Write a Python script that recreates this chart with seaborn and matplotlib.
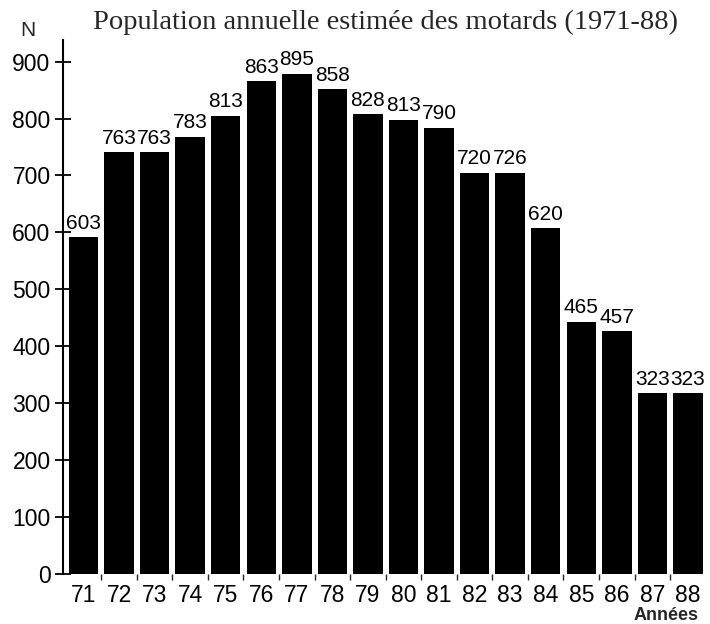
import matplotlib
matplotlib.use('Agg')
import matplotlib.pyplot as plt
import seaborn as sns
import pandas as pd

# années (étiquettes de l'axe X)
years = ['71', '72', '73', '74', '75', '76', '77', '78', '79',
         '80', '81', '82', '83', '84', '85', '86', '87', '88']
# valeurs imprimées au-dessus des barres
printed = [603, 763, 763, 783, 813, 863, 895, 858, 828,
           813, 790, 720, 726, 620, 465, 457, 323, 323]
# hauteurs des barres telles qu'elles sont dessinées sur le graphique
heights = [592, 741, 741, 768, 805, 866, 879, 852, 808,
           798, 784, 705, 705, 608, 443, 427, 318, 318]
yticks = [0, 100, 200, 300, 400, 500, 600, 700, 800, 900]

df = pd.DataFrame({'annee': years, 'n': heights, 'label': printed})

sns.set_style('white')
plt.rcParams['font.family'] = ['Liberation Sans', 'DejaVu Sans']

fig = plt.figure(figsize=(7.1, 6.24), dpi=100)
ax = fig.add_axes([63 / 710, 50 / 624, 642 / 710, 534 / 624])

sns.barplot(data=df, x='annee', y='n', color='black', saturation=1,
            width=0.83, linewidth=0, ax=ax)

# étiquettes au-dessus des barres
for i, row in df.iterrows():
    ax.annotate(str(row['label']), (i, row['n']), xytext=(0, 6),
                textcoords='offset points', ha='center', va='baseline',
                fontsize=15, color='black')

ax.set_xlim(-0.576, 17.48)
ax.set_ylim(0, 938)
ax.set_yticks(yticks)
ax.set_yticklabels([str(t) for t in yticks], fontsize=16.5)
ax.tick_params(axis='y', direction='inout', length=12, width=1.3,
               pad=3, colors='black', left=True)
ax.tick_params(axis='x', length=0, pad=7, labelsize=16.5, colors='black')
ax.set_xticks(range(len(years)))
ax.set_xticks([k + 0.5 for k in range(len(years) - 1)], minor=True)
ax.tick_params(axis='x', which='minor', direction='out', length=4,
               width=1, bottom=True)

for side in ['top', 'right', 'bottom']:
    ax.spines[side].set_visible(False)
ax.spines['left'].set_linewidth(1.5)
ax.spines['left'].set_color('black')
ax.set_xlabel('')
ax.set_ylabel('')

fig.text(28 / 710, 1 - 30 / 624, 'N', ha='center', va='center', fontsize=15)
fig.text(385 / 710, 1 - 22 / 624,
         'Population annuelle estimée des motards (1971-88)',
         ha='center', va='center', fontsize=20.5,
         family=['Liberation Serif', 'DejaVu Serif'])
fig.text(666 / 710, 1 - 615 / 624, 'Années', ha='center', va='center',
         fontsize=13, fontweight='bold')

fig.savefig('out.png', dpi=100)
plt.close(fig)
